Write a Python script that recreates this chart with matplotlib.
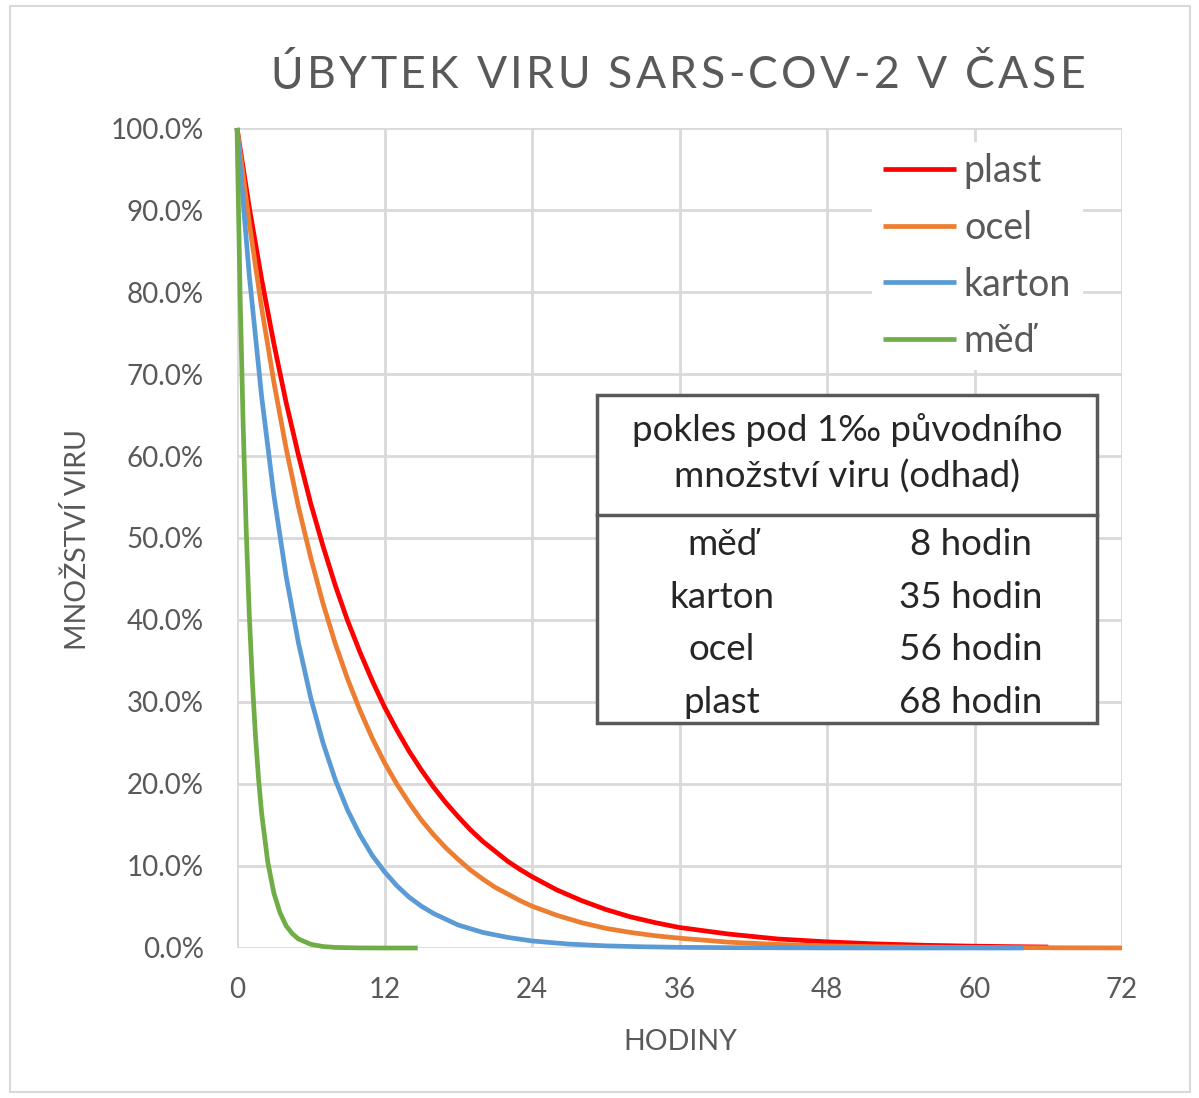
import matplotlib
matplotlib.use("Agg")
import matplotlib.pyplot as plt
from matplotlib.patches import Rectangle
from matplotlib.lines import Line2D

# ---------------- data ----------------
plast_t = [0, 1, 2, 3, 4, 5, 6, 7, 8, 9, 10, 11, 12, 13, 14, 15, 16, 17, 18, 19, 20,
           21, 22, 23, 24, 26, 28, 30, 32, 34, 36, 40, 44, 48, 52, 56, 60, 64, 66]
plast_v = [100, 90.3, 81.6, 73.7, 66.5, 60.1, 54.2, 49.0, 44.2, 39.9, 36.1, 32.6, 29.4,
           26.6, 24.0, 21.7, 19.6, 17.7, 16.0, 14.4, 13.0, 11.8, 10.6, 9.6, 8.7, 7.1,
           5.8, 4.7, 3.8, 3.1, 2.5, 1.7, 1.1, 0.75, 0.50, 0.33, 0.22, 0.15, 0.12]

ocel_t = [0, 1, 2, 3, 4, 5, 6, 7, 8, 9, 10, 11, 12, 13, 14, 15, 16, 17, 18, 19, 20,
          21, 22, 23, 24, 26, 28, 30, 32, 34, 36, 40, 44, 48, 52, 56, 60, 64, 68, 72]
ocel_v = [100, 88.4, 78.1, 69.0, 60.9, 53.8, 47.6, 42.0, 37.1, 32.8, 29.0, 25.6, 22.6,
          20.0, 17.7, 15.6, 13.8, 12.2, 10.8, 9.5, 8.4, 7.4, 6.6, 5.8, 5.1, 4.0, 3.1,
          2.4, 1.9, 1.5, 1.2, 0.71, 0.43, 0.26, 0.16, 0.10, 0.06, 0.04, 0.02, 0.01]

karton_t = [0, 1, 2, 3, 4, 5, 6, 7, 8, 9, 10, 11, 12, 13, 14, 15, 16, 18, 20, 22, 24,
            27, 30, 33, 36, 40, 48, 56, 64]
karton_v = [100, 82.0, 67.3, 55.2, 45.3, 37.2, 30.5, 25.0, 20.5, 16.8, 13.8, 11.3, 9.3,
            7.6, 6.2, 5.1, 4.2, 2.8, 1.9, 1.3, 0.86, 0.48, 0.26, 0.15, 0.08, 0.04, 0.01,
            0.0, 0.0]

med_t = [0, 0.25, 0.5, 0.75, 1, 1.25, 1.5, 1.75, 2, 2.5, 3, 3.5, 4, 4.5, 5, 6, 7, 8,
         10, 12, 14.7]
med_v = [100, 79.8, 63.8, 50.9, 40.6, 32.5, 25.9, 20.7, 16.5, 10.5, 6.7, 4.3, 2.7, 1.75,
         1.1, 0.45, 0.18, 0.07, 0.01, 0.0, 0.0]

series_names = ["plast", "ocel", "karton", "měď"]
series_colors = ["#FF0000", "#ED7D31", "#5B9BD5", "#70AD47"]

x_ticks = [0, 12, 24, 36, 48, 60, 72]
y_ticks = [0, 10, 20, 30, 40, 50, 60, 70, 80, 90, 100]

table_header = ["pokles pod 1‰ původního", "množství viru (odhad)"]
table_materials = ["měď", "karton", "ocel", "plast"]
table_hours = ["8 hodin", "35 hodin", "56 hodin", "68 hodin"]

title = "ÚBYTEK VIRU SARS-COV-2 V ČASE"
xlabel = "HODINY"
ylabel = "MNOŽSTVÍ VIRU"

# ---------------- figure ----------------
W, H = 1199, 1098
plt.rcParams["font.family"] = ["Lato", "DejaVu Sans"]
fig = plt.figure(figsize=(W / 100, H / 100), dpi=100)
fig.patch.set_facecolor("white")
GRAY = "#595959"


def fx(px):
    return px / W


def fy(py):
    return 1 - py / H


# outer chart border
fig.patches.append(Rectangle((fx(10), fy(1092)), fx(1190) - fx(10), fy(6) - fy(1092),
                             transform=fig.transFigure, fill=False,
                             edgecolor="#d9d9d9", linewidth=1.5))

ax = fig.add_axes([fx(237), fy(948), fx(1122) - fx(237), fy(128) - fy(948)])
ax.set_xlim(0, 72)
ax.set_ylim(0, 100)
for s in ax.spines.values():
    s.set_visible(False)
ax.set_xticks(x_ticks)
ax.set_yticks(y_ticks)
ax.set_xticklabels([str(v) for v in x_ticks])
ax.set_yticklabels([f"{v:.1f}%" for v in y_ticks])
ax.tick_params(length=0, labelsize=20, labelcolor=GRAY)
ax.tick_params(axis="x", pad=21)
ax.tick_params(axis="y", pad=24)
ax.grid(True, color="#d9d9d9", linewidth=2)
ax.set_axisbelow(True)

data = [(plast_t, plast_v), (ocel_t, ocel_v), (karton_t, karton_v), (med_t, med_v)]
handles = []
for i, ((t, v), name, col) in enumerate(zip(data, series_names, series_colors)):
    ln, = ax.plot(t, v, color=col, linewidth=3.4, label=name, zorder=3 + i,
                  solid_capstyle="butt", clip_on=False)
    handles.append(ln)

leg = ax.legend(handles=handles, loc="upper left",
                bbox_to_anchor=(fx(872), fy(142)), bbox_transform=fig.transFigure,
                frameon=True, fontsize=27, handlelength=1.95, handletextpad=0.2,
                labelspacing=0.55, borderpad=0.3, borderaxespad=0)
leg.get_frame().set_facecolor("white")
leg.get_frame().set_edgecolor("none")
leg.get_frame().set_alpha(1)
for txt in leg.get_texts():
    txt.set_color(GRAY)
leg.set_zorder(10)

# axis labels
fig.text(fx(680), fy(1042), xlabel, ha="center", va="center", fontsize=20.5,
         color=GRAY)
fig.text(fx(78), fy(540), ylabel, ha="center", va="center", fontsize=20.5,
         color=GRAY, rotation=90)

# title with letter spacing
renderer = fig.canvas.get_renderer()
tsize = 32
widths = []
for ch in title:
    if ch == " ":
        widths.append(None)
        continue
    t = fig.text(0, 0, ch, fontsize=tsize, color=GRAY)
    widths.append(t.get_window_extent(renderer).width)
    t.remove()
space_w = 11.0
gap = 3.4
total = 0.0
for w in widths:
    total += (space_w if w is None else w) + gap
total -= gap
xpos = 678 - total / 2
for ch, w in zip(title, widths):
    if w is None:
        xpos += space_w + gap
        continue
    fig.text(fx(xpos), fy(76), ch, ha="left", va="center", fontsize=tsize, color=GRAY)
    xpos += w + gap

# table box
bx0, bx1, by0, by1 = 597, 1097, 395, 723
fig.patches.append(Rectangle((fx(bx0), fy(by1)), fx(bx1) - fx(bx0), fy(by0) - fy(by1),
                             transform=fig.transFigure, facecolor="white",
                             edgecolor=GRAY, linewidth=2.5, zorder=20))
fig.lines.append(Line2D([fx(bx0), fx(bx1)], [fy(515), fy(515)],
                        transform=fig.transFigure, color=GRAY, linewidth=2.5,
                        zorder=21))
tcol = "#262626"
tfs = 26.5
for k, line in enumerate(table_header):
    fig.text(fx(847), fy(430 + 47 * k), line, ha="center", va="center", fontsize=tfs,
             color=tcol, zorder=22)
for k, (m, h) in enumerate(zip(table_materials, table_hours)):
    yy = fy(545 + 52.5 * k)
    fig.text(fx(722), yy, m, ha="center", va="center", fontsize=tfs, color=tcol,
             zorder=22)
    fig.text(fx(971), yy, h, ha="center", va="center", fontsize=tfs, color=tcol,
             zorder=22)

fig.savefig("out.png", dpi=100)
